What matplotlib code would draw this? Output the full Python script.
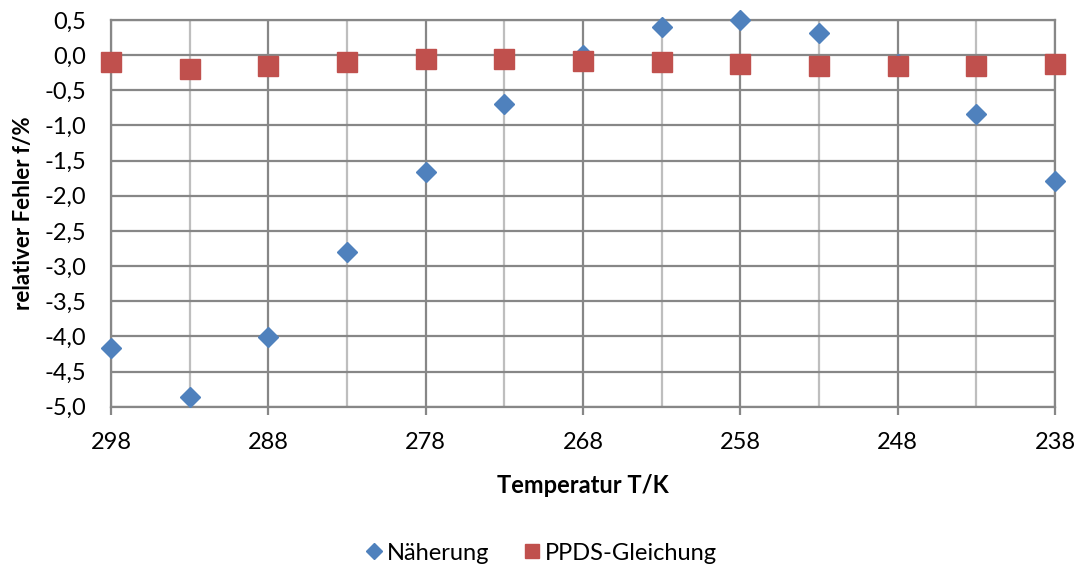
import numpy as np
import matplotlib
matplotlib.use("Agg")
import matplotlib.pyplot as plt
from matplotlib.ticker import FixedLocator, MultipleLocator, FuncFormatter

# Temperaturen und relative Fehler
temperatur = [298, 293, 288, 283, 278, 273, 268, 263, 258, 253, 248, 243, 238]
naeherung = [-4.17, -4.86, -4.01, -2.80, -1.66, -0.70, 0.00, 0.40, 0.50, 0.32, -0.12, -0.84, -1.79]
ppds = [-0.10, -0.19, -0.15, -0.10, -0.06, -0.06, -0.08, -0.10, -0.13, -0.15, -0.16, -0.16, -0.13]

plt.rcParams['font.family'] = ['Lato', 'DejaVu Sans']
grau = '#878787'

fig = plt.figure(figsize=(10.83, 5.70), dpi=100)
ax = fig.add_axes([111 / 1083, 1 - 406.7 / 570, (1055 - 111) / 1083, (406.7 - 20) / 570])

ax.plot(temperatur, naeherung, linestyle='none', marker='D', markersize=10.5,
        color='#4F81BD', label='Näherung', zorder=3, clip_on=False)
ax.plot(temperatur, ppds, linestyle='none', marker='s', markersize=14,
        color='#C0504D', label='PPDS-Gleichung', zorder=4, clip_on=False)

ax.set_xlim(298, 238)
ax.set_ylim(-5.0, 0.5)
ax.xaxis.set_major_locator(FixedLocator(list(range(298, 237, -10))))
ax.xaxis.set_minor_locator(FixedLocator(list(range(293, 237, -10))))
ax.yaxis.set_major_locator(MultipleLocator(0.5))
ax.yaxis.set_major_formatter(FuncFormatter(lambda v, p: f"{v:.1f}".replace('.', ',').replace('-0,0', '0,0')))

ax.grid(which='major', color=grau, linewidth=1.6)
ax.grid(which='minor', axis='x', color='#BEBEBE', linewidth=1.6)
ax.set_axisbelow(True)
for s in ax.spines.values():
    s.set_color(grau)
    s.set_linewidth(1.6)

ax.tick_params(axis='y', length=0, labelsize=17, pad=18)
ax.tick_params(axis='x', which='major', length=6, width=1.6, color=grau, labelsize=17, pad=12)
ax.tick_params(axis='x', which='minor', length=0)

ax.set_xlabel('Temperatur T/K', fontsize=17, fontweight='bold')
ax.xaxis.set_label_coords(0.5, (406.7 - 474) / 386.7)
ax.set_ylabel('relativer Fehler f/%', fontsize=16, fontweight='bold')
ax.yaxis.set_label_coords((23 - 111) / 944, 0.5)
ax.yaxis.label.set_va('center')

fig.legend(loc='center', bbox_to_anchor=(540 / 1083, 1 - 553 / 570), ncol=2, frameon=False,
           fontsize=17, handletextpad=0.05, columnspacing=1.3, handlelength=1.0, markerscale=0.75)

fig.savefig('out.png', dpi=100)
